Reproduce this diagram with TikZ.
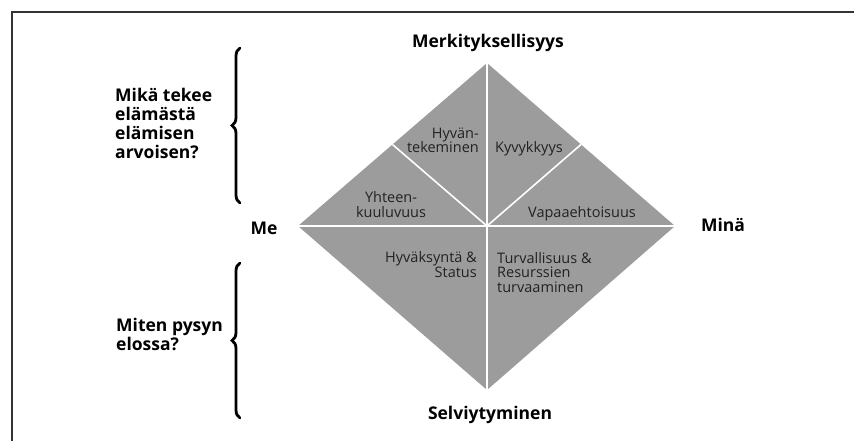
\documentclass[tikz,border=0pt]{standalone}
\usepackage{fontspec}
\setmainfont{Open Sans}
\usetikzlibrary{decorations.pathreplacing}
\definecolor{diamondgray}{HTML}{9C9C9C}
\definecolor{inktext}{HTML}{222222}
\begin{document}
\begin{tikzpicture}[x=1pt,y=-1pt,
  head/.style={font=\fontsize{17.5}{19}\selectfont\bfseries, inner sep=0pt, anchor=base, text=black},
  side/.style={font=\fontsize{17.5}{19}\selectfont\bfseries, inner sep=0pt, align=left, anchor=base west, text=black},
  lab/.style={font=\fontsize{14.5}{14.5}\selectfont, inner sep=0pt, text=inktext},
  wline/.style={draw=white, line width=1.6pt},
  bracestyle/.style={decorate, decoration={brace, amplitude=8pt}, line width=2.8pt, line cap=round}
]
\useasboundingbox (0,0) rectangle (854,441);
\fill[white] (0,0) rectangle (854,441);
% frame
\coordinate (fb) at (12,441);
\coordinate (fc) at (12,12);
\coordinate (fr) at (854,12);
\draw[line width=1.3pt, black!80] (fb) -- (fc) -- (fr);
% diamond
\coordinate (T) at (487,63);
\coordinate (B) at (487,390);
\coordinate (L) at (298,226);
\coordinate (R) at (675,226);
\coordinate (C) at (487,226);
\coordinate (UL) at (392.5,144.5);
\coordinate (UR) at (581,144.5);
\fill[diamondgray] (T) -- (R) -- (B) -- (L) -- cycle;
\draw[wline] (T) -- (B);
\draw[wline] (L) -- (R);
\draw[wline] (C) -- (UL);
\draw[wline] (C) -- (UR);
% axis labels
\node[head] (merk) at (488,48) {Merkityksellisyys};
\node[head] (selv) at (490,419) {Selviytyminen};
\node[head] (me) at (264,234) {Me};
\node[head] (mina) at (723,231) {Minä};
% inner labels (anchor base = last line's baseline)
\node[lab, anchor=base east, align=right] (hyvan) at (479,153) {Hyvän-\\tekeminen};
\node[lab, anchor=base west, align=left] (kyvy) at (495,153) {Kyvykkyys};
\node[lab, anchor=base, align=center] (yht) at (391,217) {Yhteen-\\kuuluvuus};
\node[lab, anchor=base] (vapa) at (582,217) {Vapaaehtoisuus};
\node[lab, anchor=base east, align=right] (hyvak) at (477,277) {Hyväksyntä \&\\Status};
\node[lab, anchor=base west, align=left] (turv) at (497,292) {Turvallisuus \&\\Resurssien\\turvaaminen};
% left questions
\node[side] (q1) at (115,158) {Mikä tekee\\elämästä\\elämisen\\arvoisen?};
\node[side] (q2) at (116,350) {Miten pysyn\\elossa?};
% braces
\coordinate (b1s) at (240,203);
\coordinate (b1e) at (240,48);
\coordinate (b2s) at (240,418);
\coordinate (b2e) at (240,263);
\draw[bracestyle] (b1s) -- (b1e);
\draw[bracestyle] (b2s) -- (b2e);
\end{tikzpicture}
\end{document}
